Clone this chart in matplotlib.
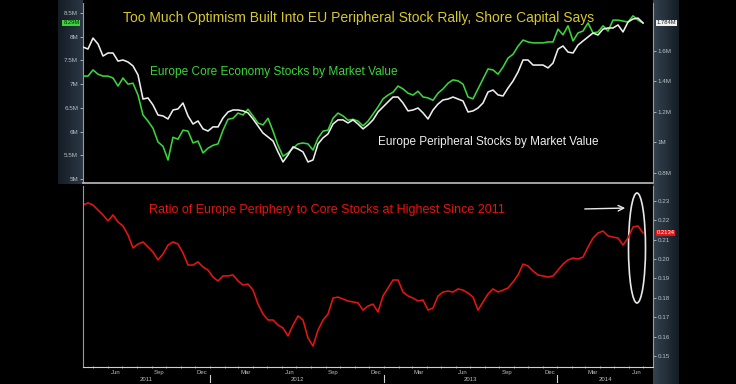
import matplotlib
matplotlib.use('Agg')
import matplotlib.pyplot as plt
import matplotlib.dates as mdates
import matplotlib.transforms as mtransforms
from matplotlib.patches import Ellipse
import numpy as np
import pandas as pd

# dates of the samples (roughly every 10 days, Apr 2011 - Jun 2014)
dates = pd.date_range('2011-04-09', '2014-06-30', periods=113)

# Europe core economy stocks by market value (left axis, millions)
core = [7.17, 7.17, 7.30, 7.21, 7.17, 7.17, 7.13, 6.96, 7.13, 7.00,
        7.02, 6.77, 6.35, 6.22, 6.07, 5.78, 5.69, 5.40, 5.88, 5.84,
        6.03, 6.01, 5.76, 5.80, 5.55, 5.65, 5.71, 5.74, 6.03, 6.26,
        6.28, 6.39, 6.35, 6.47, 6.33, 6.18, 6.14, 6.28, 6.01, 5.71,
        5.48, 5.55, 5.65, 5.74, 5.76, 5.74, 5.61, 5.86, 6.01, 6.03,
        6.28, 6.39, 6.33, 6.24, 6.26, 6.22, 6.12, 6.22, 6.37, 6.52,
        6.69, 6.77, 6.83, 6.96, 6.90, 6.81, 6.77, 6.85, 6.73, 6.71,
        6.66, 6.81, 6.90, 7.02, 7.09, 7.07, 7.00, 6.73, 6.69, 6.90,
        7.11, 7.32, 7.30, 7.21, 7.36, 7.55, 7.63, 7.80, 7.93, 7.89,
        7.87, 7.87, 7.87, 7.89, 7.89, 8.16, 8.04, 8.23, 7.91, 8.08,
        8.12, 8.29, 8.08, 8.10, 8.23, 8.12, 8.35, 8.35, 8.33, 8.31,
        8.44, 8.35, 8.29]

# Europe peripheral stocks by market value (right axis, millions)
periph = [1.626, 1.613, 1.685, 1.646, 1.567, 1.587, 1.587, 1.534, 1.541, 1.528,
          1.502, 1.443, 1.285, 1.292, 1.246, 1.180, 1.174, 1.154, 1.213, 1.220,
          1.259, 1.174, 1.121, 1.141, 1.089, 1.075, 1.102, 1.102, 1.161, 1.200,
          1.213, 1.213, 1.207, 1.194, 1.154, 1.108, 1.062, 1.036, 1.010, 0.938,
          0.872, 0.918, 0.971, 0.957, 0.938, 0.872, 0.885, 0.990, 1.030, 1.056,
          1.121, 1.148, 1.148, 1.128, 1.148, 1.121, 1.089, 1.115, 1.148, 1.200,
          1.233, 1.266, 1.298, 1.298, 1.259, 1.207, 1.213, 1.226, 1.194, 1.154,
          1.213, 1.252, 1.279, 1.285, 1.298, 1.285, 1.272, 1.200, 1.207, 1.226,
          1.259, 1.331, 1.344, 1.312, 1.305, 1.357, 1.403, 1.462, 1.541, 1.541,
          1.508, 1.508, 1.508, 1.489, 1.521, 1.613, 1.633, 1.593, 1.587, 1.639,
          1.666, 1.692, 1.718, 1.705, 1.744, 1.751, 1.751, 1.771, 1.725, 1.790,
          1.810, 1.816, 1.784]

# ratio periphery / core
ratio = [0.2278, 0.2289, 0.2278, 0.2252, 0.2227, 0.2196, 0.2227, 0.2191, 0.2170, 0.2124,
         0.2057, 0.2077, 0.2088, 0.2062, 0.2036, 0.1995, 0.2026, 0.2072, 0.2088, 0.2077,
         0.2031, 0.1969, 0.1969, 0.1985, 0.1959, 0.1943, 0.1907, 0.1887, 0.1913, 0.1913,
         0.1918, 0.1887, 0.1866, 0.1871, 0.1840, 0.1768, 0.1717, 0.1686, 0.1686, 0.1660,
         0.1645, 0.1604, 0.1660, 0.1707, 0.1686, 0.1593, 0.1552, 0.1634, 0.1686, 0.1717,
         0.1799, 0.1804, 0.1794, 0.1784, 0.1779, 0.1774, 0.1737, 0.1758, 0.1768, 0.1727,
         0.1810, 0.1851, 0.1892, 0.1892, 0.1830, 0.1810, 0.1799, 0.1784, 0.1789, 0.1737,
         0.1748, 0.1810, 0.1830, 0.1835, 0.1830, 0.1846, 0.1840, 0.1825, 0.1804, 0.1737,
         0.1779, 0.1820, 0.1846, 0.1830, 0.1840, 0.1851, 0.1882, 0.1918, 0.1974, 0.1964,
         0.1938, 0.1918, 0.1913, 0.1907, 0.1913, 0.1943, 0.1974, 0.1995, 0.2005, 0.2000,
         0.2010, 0.2062, 0.2108, 0.2134, 0.2144, 0.2119, 0.2113, 0.2108, 0.2072, 0.2108,
         0.2165, 0.2170, 0.2134]

left_ticks = [5, 5.5, 6, 6.5, 7, 7.5, 8, 8.5]
left_labels = ['5M', '5.5M', '6M', '6.5M', '7M', '7.5M', '8M', '8.5M']
right_ticks = [0.8, 1.0, 1.2, 1.4, 1.6]
right_labels = ['0.8M', '1M', '1.2M', '1.4M', '1.6M']
ratio_ticks = [0.15, 0.16, 0.17, 0.18, 0.19, 0.20, 0.21, 0.22, 0.23]
ratio_labels = ['0.15', '0.16', '0.17', '0.18', '0.19', '0.20', '0.21', '0.22', '0.23']

title = 'Too Much Optimism Built Into EU Peripheral Stock Rally, Shore Capital Says'

GREEN = '#3ad63a'
WHITE = '#eeeeee'
RED = '#e8140f'
YELLOW = '#d8c92a'
TICKC = '#b8bec4'
AXC = '#9a9a9a'

plt.rcParams['font.family'] = ['Liberation Sans', 'DejaVu Sans']

W, H = 736, 384
fig = plt.figure(figsize=(W / 100, H / 100), dpi=100, facecolor='black')

def fx(px):
    return px / W

def fy(py):
    return 1 - py / H

# side panels (Bloomberg style gradient)
lp = fig.add_axes([fx(58), fy(184), fx(25), 184 / H])
lp.imshow(np.linspace(0, 1, 50)[None, :], aspect='auto', cmap=matplotlib.colors.LinearSegmentedColormap.from_list('l', ['#151d26', '#2a3744']))
lp.axis('off')
rp = fig.add_axes([fx(653), 0, fx(26), 1])
rp.imshow(np.linspace(0, 1, 50)[None, :], aspect='auto', cmap=matplotlib.colors.LinearSegmentedColormap.from_list('r', ['#34434f', '#141c24']))
rp.axis('off')

x0 = mdates.date2num(pd.Timestamp('2011-04-09'))
x1 = mdates.date2num(pd.Timestamp('2014-07-21'))

# ---- top panel ----
ax = fig.add_axes([fx(83), fy(183), fx(570), 180 / H])
ax.set_facecolor('none')
ax.plot(dates, core, color=GREEN, lw=1.15, zorder=3)
ax.set_xlim(x0, x1)
ax.set_ylim(4.916, 8.711)
ax.set_yticks(left_ticks)
ax.set_yticklabels(left_labels)
ax.tick_params(axis='y', colors=TICKC, labelsize=4.5, length=2, width=0.6, pad=1.5)
ax.set_xticks([])
for s in ['top', 'right']:
    ax.spines[s].set_visible(False)
ax.spines['left'].set_color(AXC)
ax.spines['bottom'].set_color('#bdbdbd')
ax.spines['bottom'].set_linewidth(1.2)

ax2 = ax.twinx()
ax2.plot(dates, periph, color=WHITE, lw=1.15, zorder=2)
ax2.set_ylim(0.734, 1.915)
ax2.set_yticks(right_ticks)
ax2.set_yticklabels(right_labels)
ax2.tick_params(axis='y', colors=TICKC, labelsize=4.5, length=2, width=0.6, pad=1.5)
for s in ['top', 'left', 'bottom']:
    ax2.spines[s].set_visible(False)
ax2.spines['right'].set_color(AXC)
ax2.set_xlim(x0, x1)

ax.text((359 - 83) / 570, (183 - 18) / 180, title, transform=ax.transAxes,
        ha='center', va='center', color=YELLOW, fontsize=10.0, zorder=5)
ax.text((150 - 83) / 570, (183 - 72) / 180, 'Europe Core Economy Stocks by Market Value',
        transform=ax.transAxes, ha='left', va='center', color=GREEN, fontsize=8.55)
ax.text((378 - 83) / 570, (183 - 142) / 180, 'Europe Peripheral Stocks by Market Value',
        transform=ax.transAxes, ha='left', va='center', color=WHITE, fontsize=8.45)

# last value tags
ax.text(-0.006, core[-1], '%.2fM' % core[-1], transform=mtransforms.blended_transform_factory(ax.transAxes, ax.transData),
        ha='right', va='center', fontsize=4.2, color='#0a2a0a',
        bbox=dict(boxstyle='square,pad=0.15', fc=GREEN, ec='none'))
ax2.text(1.006, periph[-1], '%.3fM' % periph[-1], transform=mtransforms.blended_transform_factory(ax2.transAxes, ax2.transData),
         ha='left', va='center', fontsize=4.2, color='#222222',
         bbox=dict(boxstyle='square,pad=0.15', fc='#f0f0f0', ec='none'))

# ---- bottom panel ----
bx = fig.add_axes([fx(83), fy(367), fx(570), 181 / H])
bx.set_facecolor('none')
bx.plot(dates, ratio, color=RED, lw=1.15)
bx.set_xlim(x0, x1)
bx.set_ylim(0.1444, 0.2376)
bx.yaxis.tick_right()
bx.set_yticks(ratio_ticks)
bx.set_yticklabels(ratio_labels)
bx.tick_params(axis='y', colors=TICKC, labelsize=4.5, length=2, width=0.6, pad=1.5)
bx.spines['top'].set_visible(False)
for s in ['left', 'right', 'bottom']:
    bx.spines[s].set_color(AXC)
bx.spines['bottom'].set_color('#d0d0d0')

bx.xaxis.set_major_locator(mdates.MonthLocator())
bx.xaxis.set_major_formatter(plt.NullFormatter())
bx.tick_params(axis='x', colors='#d0d0d0', length=2, width=0.5, direction='inout')

trans = mtransforms.blended_transform_factory(bx.transData, bx.transAxes)
for m in pd.date_range('2011-06-01', '2014-06-01', freq='MS'):
    if m.month in (3, 6, 9, 12):
        bx.text(mdates.date2num(m + pd.Timedelta(days=15)), -0.03, m.strftime('%b'),
                transform=trans, ha='center', va='center', fontsize=4.3, color=TICKC)
for yr in [2012, 2013, 2014]:
    xj = mdates.date2num(pd.Timestamp('%d-01-01' % yr))
    bx.plot([xj, xj], [-0.045, -0.085], transform=trans, color='#d0d0d0', lw=0.8, clip_on=False)
for yr in [2011, 2012, 2013, 2014]:
    a = max(x0, mdates.date2num(pd.Timestamp('%d-01-01' % yr)))
    b = min(x1, mdates.date2num(pd.Timestamp('%d-01-01' % (yr + 1))))
    bx.text((a + b) / 2, -0.068, str(yr), transform=trans, ha='center', va='center',
            fontsize=4.3, color=TICKC)

bx.text((149 - 83) / 570, (367 - 210) / 181, 'Ratio of Europe Periphery to Core Stocks at Highest Since 2011',
        transform=bx.transAxes, ha='left', va='center', color=RED, fontsize=9.0)

bx.text(1.006, ratio[-1], '%.4f' % ratio[-1], transform=mtransforms.blended_transform_factory(bx.transAxes, bx.transData),
        ha='left', va='center', fontsize=4.2, color='white',
        bbox=dict(boxstyle='square,pad=0.15', fc='#e01818', ec='none'))

# arrow and ellipse highlighting the latest high
bx.annotate('', xy=((628 - 83) / 570, (367 - 208) / 181), xytext=((582 - 83) / 570, (367 - 209) / 181),
            xycoords='axes fraction', textcoords='axes fraction',
            arrowprops=dict(arrowstyle='->', color='#e8e8e8', lw=1.0))
bx.add_patch(Ellipse(((637 - 83) / 570, (367 - 248) / 181), 17 / 570, 110 / 181,
                     transform=bx.transAxes, fill=False, ec='#e8e8e8', lw=1.2, clip_on=False))

fig.savefig('out.png', dpi=100, facecolor='black')
